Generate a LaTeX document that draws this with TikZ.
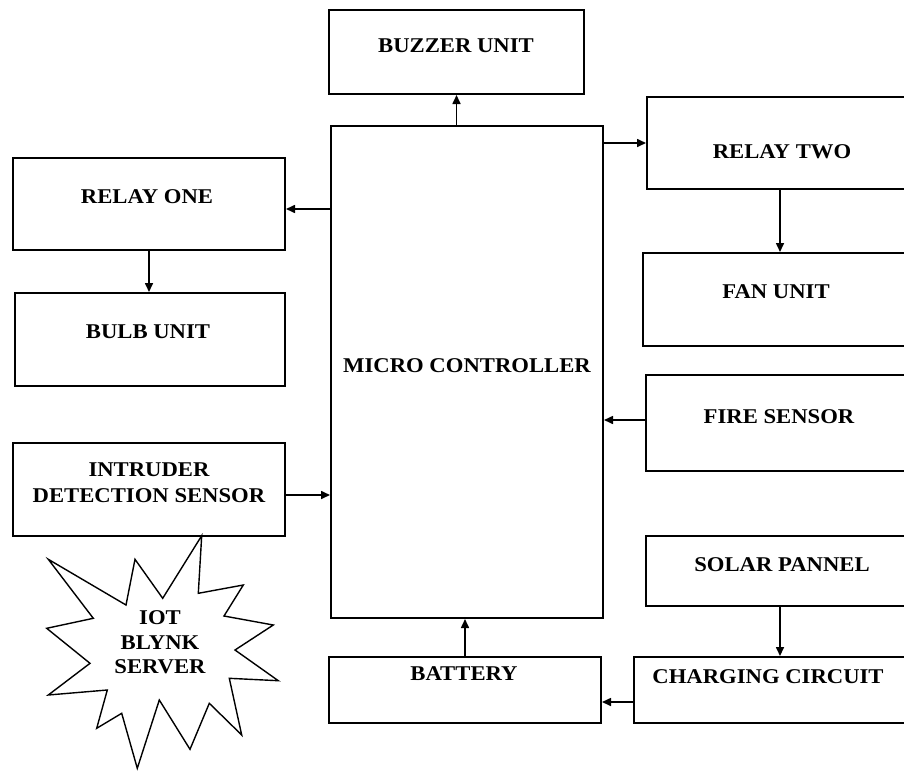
\documentclass[tikz,border=0pt]{standalone}
\usepackage{fontspec}
\setmainfont{Liberation Serif}
\usetikzlibrary{arrows.meta}
\newcommand{\stretchtxt}[1]{\scalebox{1.08}[1]{#1}}
\begin{document}
\begin{tikzpicture}[x=1pt,y=-1pt,
  box/.style={draw, rectangle, line width=2pt, inner sep=0pt},
  lbl/.style={font=\bfseries\fontsize{21}{26}\selectfont, align=center, inner sep=0pt},
  arr/.style={-{Triangle[length=9pt,width=8pt]}, line width=1.6pt}]
\useasboundingbox (0,0) rectangle (904,771);

% boxes
\node[box, minimum width=255pt, minimum height=84pt] (buzz) at (456.5,52) {};
\node[box, minimum width=272pt, minimum height=492pt] (micro) at (467,372) {};
\node[box, minimum width=272pt, minimum height=92pt] (r1) at (149,204) {};
\node[box, minimum width=270pt, minimum height=93pt] (bulb) at (150,339.5) {};
\node[box, minimum width=272pt, minimum height=93pt] (intr) at (149,489.5) {};
\node[box, minimum width=259pt, minimum height=92pt] (r2) at (776.5,143) {};
\node[box, minimum width=263pt, minimum height=93pt] (fan) at (774.5,299.5) {};
\node[box, minimum width=260pt, minimum height=96pt] (fire) at (776,423) {};
\node[box, minimum width=260pt, minimum height=70pt] (solar) at (776,571) {};
\node[box, minimum width=272pt, minimum height=66pt] (charge) at (770,690) {};
\node[box, minimum width=272pt, minimum height=66pt] (batt) at (465,690) {};

% labels
\node[lbl] (tbuzz) at (456,46) {\stretchtxt{BUZZER UNIT}};
\node[lbl] (tmicro) at (467,366) {\stretchtxt{MICRO CONTROLLER}};
\node[lbl] (tr1) at (147,197) {\stretchtxt{RELAY ONE}};
\node[lbl] (tbulb) at (148,332) {\stretchtxt{BULB UNIT}};
\node[lbl] (tintr) at (149,483) {\stretchtxt{INTRUDER}\\\stretchtxt{DETECTION SENSOR}};
\node[lbl] (tr2) at (782,152) {\stretchtxt{RELAY TWO}};
\node[lbl] (tfan) at (776,292) {\stretchtxt{FAN UNIT}};
\node[lbl] (tfire) at (779,417) {\stretchtxt{FIRE SENSOR}};
\node[lbl] (tsolar) at (782,565) {\stretchtxt{SOLAR PANNEL}};
\node[lbl] (tcharge) at (768,677) {\stretchtxt{CHARGING CIRCUIT}};
\node[lbl] (tbatt) at (464,674) {\stretchtxt{BATTERY}};

% starburst
\draw[line width=1.4pt, line join=miter]
  (201.7,535.7) -- (198.3,593.3) -- (243.3,585) -- (224,616) -- (273.3,625)
  -- (235,650) -- (278.3,680.7) -- (229.3,678.3) -- (241.7,735) -- (209.3,703.3)
  -- (190,749.3) -- (159.3,700) -- (137.3,768.3) -- (121.7,713.3) -- (96.7,728.3)
  -- (107.3,690) -- (48.3,695) -- (90,663.3) -- (46.7,628.3) -- (93.3,618.3)
  -- (48.3,559.3) -- (126,605) -- (135,559.3) -- (162.7,598.3) -- cycle;
\node[lbl, font=\bfseries\fontsize{21}{24.5}\selectfont] (iot) at (160,642.5)
  {\stretchtxt{IOT}\\\stretchtxt{BLYNK}\\\stretchtxt{SERVER}};

% connector end points
\coordinate (r1in) at ([yshift=-5pt]r1.east);
\coordinate (r2out) at ([xshift=3.5pt]r2.south);
\coordinate (fireout) at ([yshift=3pt]fire.west);
\coordinate (introut) at ([yshift=-5.5pt]intr.east);
\coordinate (solarout) at ([xshift=4pt]solar.south);
\coordinate (chargeout) at ([yshift=-12pt]charge.west);

% connectors
\draw[arr] (buzz.south |- micro.north) -- (buzz.south);
\draw[arr] (micro.east |- r2.west) -- (r2.west);
\draw[arr] (micro.west |- r1in) -- (r1in);
\draw[arr] (r1.south) -- (bulb.north -| r1.south);
\draw[arr] (r2out) -- (r2out |- fan.north);
\draw[arr] (fireout) -- (micro.east |- fireout);
\draw[arr] (introut) -- (micro.west |- introut);
\draw[arr] (solarout) -- (solarout |- charge.north);
\draw[arr] (chargeout) -- (batt.east |- chargeout);
\draw[arr] (batt.north) -- (micro.south -| batt.north);
\end{tikzpicture}
\end{document}
